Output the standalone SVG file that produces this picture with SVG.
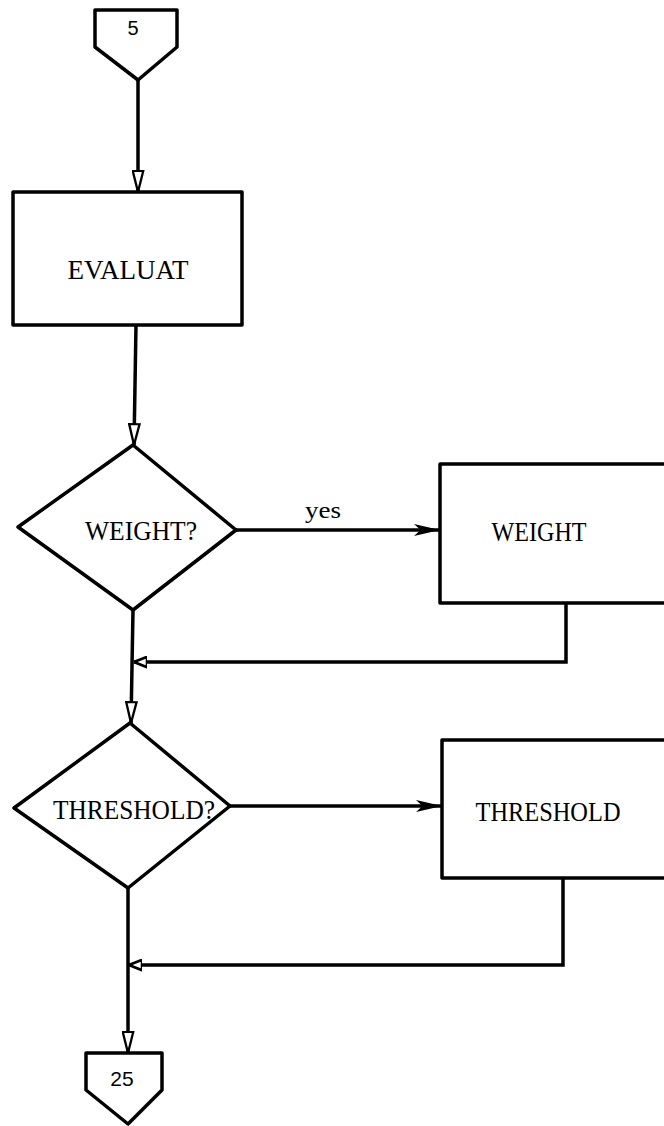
<svg xmlns="http://www.w3.org/2000/svg" width="664" height="1126" viewBox="0 0 664 1126">
<style>
.s{fill:#fff;stroke:#000;stroke-width:3.5;stroke-linejoin:round}
.c{fill:none;stroke:#000;stroke-width:3.5}
.t{font-family:"Liberation Serif","Times New Roman",serif;font-size:27px;fill:#000;text-anchor:middle;dominant-baseline:central}
.n{font-family:"Liberation Sans",Arial,sans-serif;fill:#000;text-anchor:middle;dominant-baseline:central}
</style>
<defs>
<marker id="ho" viewBox="0 0 10 10" refX="10" refY="5" markerWidth="13" markerHeight="13" markerUnits="userSpaceOnUse" orient="auto">
<path d="M0,1 L10,5 L0,9 Z" fill="#fff" stroke="#000" stroke-width="2"/>
</marker>
<marker id="hv" viewBox="0 0 20 10" refX="20" refY="5" markerWidth="22" markerHeight="13" markerUnits="userSpaceOnUse" orient="auto" preserveAspectRatio="none">
<path d="M1,1 L20,5 L1,9 Z" fill="#fff" stroke="#000" stroke-width="1.8"/>
</marker>
<marker id="fi" viewBox="0 0 20 10" refX="20" refY="5" markerWidth="26" markerHeight="15" markerUnits="userSpaceOnUse" orient="auto" preserveAspectRatio="none">
<path d="M0,1 L20,5 L0,9 L5,5 Z" fill="#000"/>
</marker>
</defs>
<g id="connectors">
<line class="c" x1="138" y1="80" x2="138" y2="192" marker-end="url(#hv)"/>
<line class="c" x1="136" y1="325" x2="134" y2="445" marker-end="url(#hv)"/>
<line class="c" x1="236" y1="530" x2="440" y2="530" marker-end="url(#fi)"/>
<text class="t" x="323" y="510" style="font-size:23px" textLength="36" lengthAdjust="spacingAndGlyphs">yes</text>
<polyline class="c" points="566,603 566,662 134,662" marker-end="url(#ho)"/>
<line class="c" x1="133" y1="610" x2="131" y2="723" marker-end="url(#hv)"/>
<line class="c" x1="230" y1="806" x2="442" y2="806" marker-end="url(#fi)"/>
<polyline class="c" points="563,878 563,965 129,965" marker-end="url(#ho)"/>
<line class="c" x1="128" y1="888" x2="128" y2="1053" marker-end="url(#hv)"/>
</g>
<g id="n5">
<path class="s" d="M95,10 L177,10 L177,47 L138,80 L95,47 Z"/>
<text class="n" x="133" y="28" font-size="20">5</text>
</g>
<g id="evaluat">
<rect class="s" x="13" y="192" width="229" height="133"/>
<text class="t" x="128" y="270" textLength="121" lengthAdjust="spacingAndGlyphs">EVALUAT</text>
</g>
<g id="weightq">
<path class="s" d="M133,445 L236,530 L133,610 L18,527 Z"/>
<text class="t" x="141" y="531" textLength="112" lengthAdjust="spacingAndGlyphs">WEIGHT?</text>
</g>
<g id="weight">
<rect class="s" x="440" y="464" width="240" height="139"/>
<text class="t" x="539" y="532" textLength="95" lengthAdjust="spacingAndGlyphs">WEIGHT</text>
</g>
<g id="thresholdq">
<path class="s" d="M130,723 L230,806 L128,888 L14,808 Z"/>
<text class="t" x="134" y="810" textLength="162" lengthAdjust="spacingAndGlyphs">THRESHOLD?</text>
</g>
<g id="threshold">
<rect class="s" x="442" y="740" width="240" height="138"/>
<text class="t" x="548" y="812" textLength="145" lengthAdjust="spacingAndGlyphs">THRESHOLD</text>
</g>
<g id="n25">
<path class="s" d="M86,1053 L162,1053 L162,1090 L128,1124 L86,1090 Z"/>
<text class="n" x="122" y="1078" font-size="21">25</text>
</g>
</svg>
